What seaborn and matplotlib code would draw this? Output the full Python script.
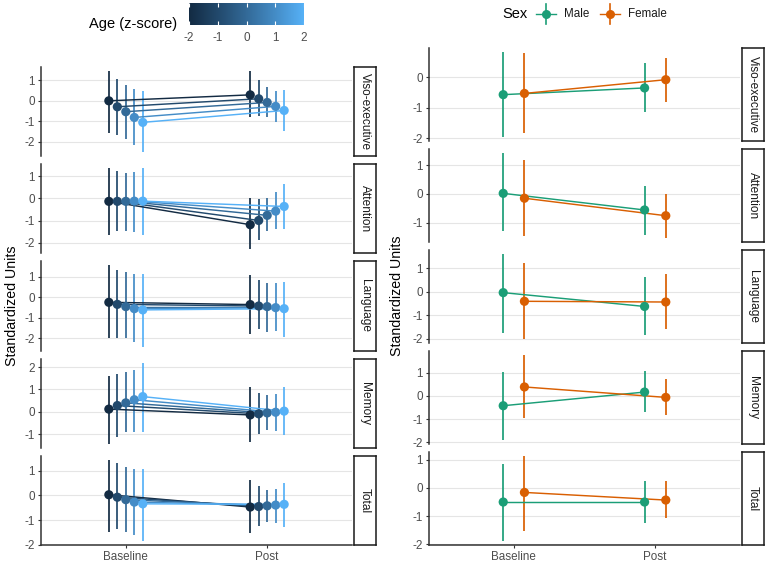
import numpy as np
import pandas as pd
import matplotlib
matplotlib.use("Agg")
import matplotlib.pyplot as plt
import seaborn as sns
from matplotlib.colors import LinearSegmentedColormap, to_hex
from matplotlib.ticker import MultipleLocator

# -----------------------------
# 1. Data
# -----------------------------
domains = ["Viso-executive", "Attention", "Language", "Memory", "Total"]
times = ["Baseline", "Post"]
age_levels = [-2, -1, 0, 1, 2]
sexes = ["Male", "Female"]

# age model: rows = domains, cols = age z-score -2..2
age_est_base = [[0.00, -0.29, -0.53, -0.81, -1.05],
                [-0.13, -0.13, -0.13, -0.12, -0.12],
                [-0.24, -0.34, -0.45, -0.55, -0.61],
                [0.12, 0.28, 0.40, 0.54, 0.68],
                [0.03, -0.07, -0.17, -0.27, -0.34]]
age_lo_base = [[-1.56, -1.67, -1.88, -2.17, -2.50],
               [-1.66, -1.48, -1.47, -1.51, -1.63],
               [-2.00, -2.00, -2.00, -2.19, -2.40],
               [-1.43, -1.14, -0.91, -0.91, -0.90],
               [-1.49, -1.38, -1.49, -1.61, -1.85]]
age_hi_base = [[1.45, 1.07, 0.76, 0.57, 0.47],
               [1.36, 1.24, 1.13, 1.21, 1.36],
               [1.56, 1.32, 1.26, 1.16, 1.14],
               [1.62, 1.68, 1.77, 1.87, 2.20],
               [1.45, 1.32, 1.16, 1.09, 1.09]]
age_est_post = [[0.29, 0.10, -0.08, -0.27, -0.47],
                [-1.18, -0.99, -0.76, -0.57, -0.36],
                [-0.35, -0.42, -0.45, -0.50, -0.55],
                [-0.14, -0.09, -0.05, -0.02, 0.03],
                [-0.47, -0.45, -0.42, -0.39, -0.36]]
age_lo_post = [[-0.81, -0.73, -0.81, -1.05, -1.46],
               [-2.29, -1.85, -1.48, -1.36, -1.36],
               [-1.80, -1.55, -1.68, -1.66, -1.95],
               [-1.36, -1.00, -0.80, -0.84, -1.03],
               [-1.52, -1.25, -1.09, -1.14, -1.29]]
age_hi_post = [[1.45, 1.00, 0.65, 0.49, 0.52],
               [0.04, -0.04, 0.04, 0.27, 0.66],
               [1.10, 0.87, 0.71, 0.72, 0.77],
               [1.10, 0.86, 0.74, 0.81, 1.10],
               [0.64, 0.38, 0.23, 0.27, 0.50]]

# sex model: rows = domains, cols = Male, Female
sex_est_base = [[-0.57, -0.53], [0.02, -0.15], [-0.04, -0.41], [-0.42, 0.39], [-0.50, -0.16]]
sex_lo_base = [[-1.95, -1.82], [-1.31, -1.47], [-1.77, -2.01], [-1.89, -0.96], [-1.87, -1.51]]
sex_hi_base = [[0.82, 0.78], [1.42, 1.19], [1.60, 1.21], [1.02, 1.76], [0.86, 1.12]]
sex_est_post = [[-0.35, -0.08], [-0.56, -0.76], [-0.63, -0.44], [0.17, -0.06], [-0.50, -0.43]]
sex_lo_post = [[-1.14, -0.82], [-1.45, -1.53], [-1.87, -1.60], [-0.67, -0.82], [-1.25, -1.08]]
sex_hi_post = [[0.48, 0.64], [0.28, 0.00], [0.63, 0.77], [1.09, 0.74], [0.26, 0.26]]

# -----------------------------
# 2. Long tables
# -----------------------------
def to_long(groups, est_b, lo_b, hi_b, est_p, lo_p, hi_p):
    rows = []
    for d, dom in enumerate(domains):
        for g, grp in enumerate(groups):
            rows.append([dom, "Baseline", grp, g, est_b[d][g], lo_b[d][g], hi_b[d][g]])
            rows.append([dom, "Post", grp, g, est_p[d][g], lo_p[d][g], hi_p[d][g]])
    return pd.DataFrame(rows, columns=["domain", "time", "group", "gidx", "est", "lo", "hi"])

df_age = to_long(age_levels, age_est_base, age_lo_base, age_hi_base,
                 age_est_post, age_lo_post, age_hi_post)
df_sex = to_long(sexes, sex_est_base, sex_lo_base, sex_hi_base,
                 sex_est_post, sex_lo_post, sex_hi_post)

# dodge groups around each time point (total width 0.3)
DODGE = 0.3
for df, n in [(df_age, len(age_levels)), (df_sex, len(sexes))]:
    df["xpos"] = df["time"].map({t: i + 1 for i, t in enumerate(times)}) \
        + (df["gidx"] - (n - 1) / 2) * DODGE / n

age_cmap = LinearSegmentedColormap.from_list(
    "gg", ["#132B43", "#22496C", "#336A98", "#448CC6", "#56B1F7"])
age_pal = {a: to_hex(age_cmap((a + 2) / 4)) for a in age_levels}
sex_pal = {"Male": "#1B9E77", "Female": "#D95F02"}

# -----------------------------
# 3. Figure
# -----------------------------
plt.rcParams["font.family"] = ["Liberation Sans", "DejaVu Sans"]
W, H = 767, 562
fig = plt.figure(figsize=(W / 100, H / 100), dpi=100)


def box(l, t, w, h):
    return [l / W, 1 - (t + h) / H, w / W, h / H]


TICK_C = "#4D4D4D"
AX_C = "#333333"


def draw_panel(df, pal, hue_order, left, top, bottom):
    gap = 8
    n = len(domains)
    fh = (bottom - top - gap * (n - 1)) / n
    for i, dom in enumerate(domains):
        t = top + i * (fh + gap)
        ax = fig.add_axes(box(left, t, 311, fh))
        sub = df[df["domain"] == dom]
        # error bars
        ax.vlines(sub["xpos"], sub["lo"], sub["hi"],
                  colors=[pal[g] for g in sub["group"]], lw=1.25, zorder=2)
        sns.lineplot(data=sub, x="xpos", y="est", hue="group", hue_order=hue_order,
                     palette=pal, estimator=None, lw=1.05, legend=False, ax=ax, zorder=3)
        sns.scatterplot(data=sub, x="xpos", y="est", hue="group", hue_order=hue_order,
                        palette=pal, s=44, linewidth=0, legend=False, ax=ax, zorder=4)
        # free y scale, 5% expansion like the original
        lo, hi = sub["lo"].min(), sub["hi"].max()
        pad = 0.05 * (hi - lo)
        ax.set_ylim(lo - pad, hi + pad)
        ax.set_xlim(0.4, 2.6)
        ax.yaxis.set_major_locator(MultipleLocator(1))
        ax.yaxis.set_major_formatter(lambda v, p: f"{v:.0f}")
        ax.grid(axis="y", color="#E5E5E5", lw=0.8)
        ax.set_axisbelow(True)
        for s in ["top", "right"]:
            ax.spines[s].set_visible(False)
        ax.spines["left"].set_color(AX_C)
        ax.spines["left"].set_linewidth(1.1)
        ax.tick_params(axis="y", length=2.5, width=0.8, color=AX_C,
                       labelsize=8.4, labelcolor=TICK_C, pad=2)
        ax.set_xlabel("")
        ax.set_ylabel("")
        if i == n - 1:
            ax.spines["bottom"].set_color(AX_C)
            ax.spines["bottom"].set_linewidth(1.1)
            ax.set_xticks([1, 2])
            ax.set_xticklabels(times)
            ax.tick_params(axis="x", length=2.5, width=0.8, color=AX_C,
                           labelsize=8.4, labelcolor=TICK_C, pad=2)
        else:
            ax.spines["bottom"].set_visible(False)
            ax.set_xticks([])
        # facet strip
        st = fig.add_axes(box(left + 313, t, 22, fh))
        st.set_xticks([])
        st.set_yticks([])
        for s in st.spines.values():
            s.set_linewidth(1.1)
            s.set_color("#1A1A1A")
        st.text(0.5, 0.5, dom, rotation=-90, ha="center", va="center",
                fontsize=8.6, color="#1A1A1A", transform=st.transAxes)


draw_panel(df_age, age_pal, age_levels, 41, 67, 545)
draw_panel(df_sex, sex_pal, sexes, 429, 48, 545)

fig.text(12 / W, 1 - 306 / H, "Standardized Units", rotation=90,
         ha="center", va="center", fontsize=10.2)
fig.text(397 / W, 1 - 296 / H, "Standardized Units", rotation=90,
         ha="center", va="center", fontsize=10.2)

# age colourbar legend
cb = fig.add_axes(box(189, 3, 115, 22))
cb.imshow(np.linspace(-2, 2, 256)[None, :], cmap=age_cmap, aspect="auto",
          extent=[-2, 2, 0, 1])
cb.vlines(age_levels, 0, 0.18, colors="white", lw=0.8)
cb.vlines(age_levels, 0.82, 1, colors="white", lw=0.8)
cb.set_xlim(-2, 2)
cb.set_ylim(0, 1)
cb.set_yticks([])
cb.set_xticks(age_levels)
cb.set_xticklabels([str(a) for a in age_levels])
cb.tick_params(axis="x", length=0, labelsize=8.4, labelcolor=TICK_C, pad=5)
for s in cb.spines.values():
    s.set_visible(False)
fig.text(177 / W, 1 - 24 / H, "Age (z-score)", ha="right", va="center", fontsize=10.5)

# sex legend
lg = fig.add_axes([0, 0, 1, 1], facecolor="none")
lg.set_xlim(0, W)
lg.set_ylim(H, 0)
lg.axis("off")
lg.text(502, 14, "Sex", ha="left", va="center", fontsize=10.5)
for x0, sx in [(546, "Male"), (610, "Female")]:
    c = sex_pal[sx]
    lg.plot([x0 - 10, x0 + 10], [14, 14], color=c, lw=1.0)
    lg.plot([x0, x0], [4, 24], color=c, lw=1.2)
    lg.plot([x0], [14], "o", color=c, ms=6.5, mew=0)
    lg.text(x0 + 18, 14, sx, ha="left", va="center", fontsize=8.4, color="#1A1A1A")

fig.savefig("out.png", dpi=100)
